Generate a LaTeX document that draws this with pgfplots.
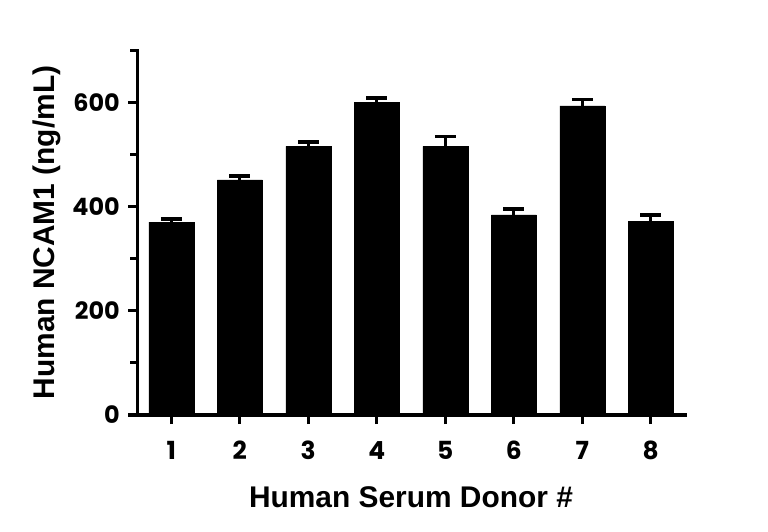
\documentclass[border=0pt]{standalone}
\usepackage{fontspec}
\usepackage{pgfplots}
\pgfplotsset{compat=1.18}
\setmainfont{Liberation Sans}
\newfontfamily\tickfont{Poppins}

\begin{document}
\begin{tikzpicture}
    \useasboundingbox (0,0) rectangle (768bp,532bp);
    \begin{axis}[
        at={(137bp,117bp)},
        anchor=south west,
        scale only axis,
        width=548bp,
        height=365bp,
        xmin=0.5, xmax=8.5,
        ymin=0, ymax=700,
        axis x line*=bottom,
        axis y line*=left,
        axis line style={line width=3bp, line cap=rect},
        every tick/.style={line width=3bp, black},
        tick align=outside,
        major tick length=9bp,
        minor tick length=7bp,
        xtick={1,...,8},
        ytick={0,200,400,600},
        minor ytick={100,300,500,700},
        xticklabel style={font=\tickfont\bfseries\fontsize{25}{25}\selectfont, anchor=north, inner sep=0pt, yshift=-17bp},
        yticklabel style={font=\tickfont\bfseries\fontsize{24}{24}\selectfont, anchor=east, inner sep=0pt, xshift=-8bp},
        /pgf/number format/assume math mode=true,
        xlabel={Human Serum Donor \#},
        ylabel={Human NCAM1 (ng/mL)},
        label style={font=\bfseries\fontsize{30}{30}\selectfont},
        xlabel style={at={(rel axis cs:0.5,0)}, anchor=base, yshift=-92bp},
        ylabel style={at={(rel axis cs:0,0.5)}, anchor=base, yshift=83bp},
    ]
    \addplot[
        ybar,
        bar width=45bp,
        fill=black,
        draw=black,
        error bars/.cd,
            y dir=plus,
            y explicit,
            error bar style={line width=3bp, black},
            error mark options={mark size=10.5bp, line width=3.5bp, black, rotate=90},
    ]
    coordinates {
        (1,370) +- (0,6)
        (2,451) +- (0,7)
        (3,515) +- (0,9)
        (4,600) +- (0,8)
        (5,515) +- (0,19)
        (6,384) +- (0,11)
        (7,593) +- (0,12)
        (8,371) +- (0,13)
    };
    \end{axis}
\end{tikzpicture}
\end{document}
